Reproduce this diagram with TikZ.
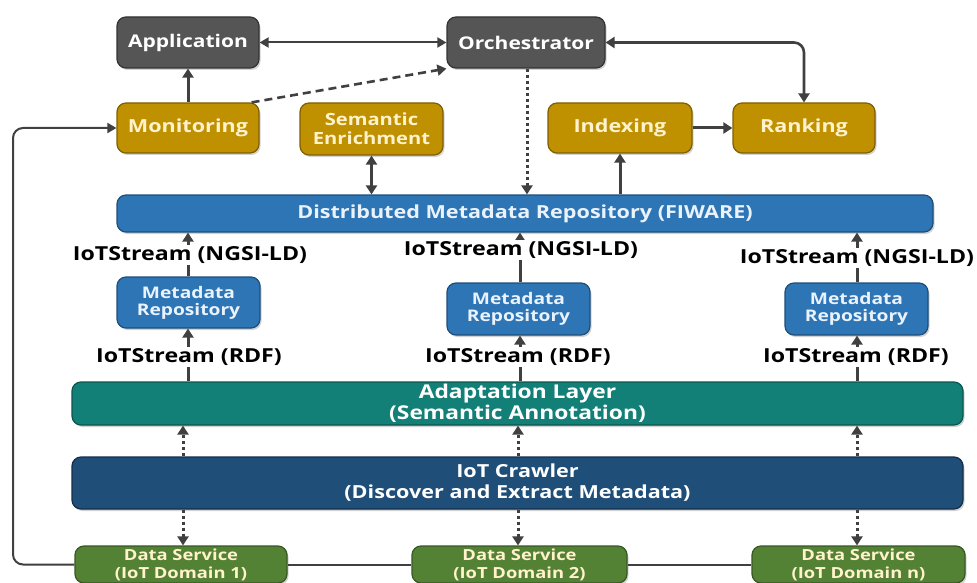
\documentclass[tikz,border=0pt]{standalone}
\usepackage{fontspec}
\setmainfont{Open Sans}[FakeStretch=1.2]
\usetikzlibrary{arrows.meta,shadows,positioning}

\definecolor{greybox}{HTML}{555555}
\definecolor{greyline}{HTML}{333333}
\definecolor{goldbox}{HTML}{BF9000}
\definecolor{goldline}{HTML}{7F6000}
\definecolor{goldtext}{HTML}{FFF2CC}
\definecolor{bluebox}{HTML}{2E75B6}
\definecolor{blueline}{HTML}{1F4E79}
\definecolor{bluetext}{HTML}{EAF2FB}
\definecolor{tealbox}{HTML}{138078}
\definecolor{tealline}{HTML}{0B5550}
\definecolor{navybox}{HTML}{1F4E79}
\definecolor{navyline}{HTML}{132F4A}
\definecolor{greenbox}{HTML}{548235}
\definecolor{greenline}{HTML}{385723}
\definecolor{arrowcol}{HTML}{404040}

\tikzset{
  boxbase/.style={rounded corners=9pt, line width=1.2pt, align=center, inner sep=0pt,
    font=\bfseries, drop shadow={opacity=0.35, shadow xshift=1.5pt, shadow yshift=-2pt}},
  greyb/.style={boxbase, fill=greybox, draw=greyline, text=white, font=\fontsize{17.5}{19}\selectfont\bfseries},
  goldb/.style={boxbase, fill=goldbox, draw=goldline, text=goldtext, font=\fontsize{18}{19}\selectfont\bfseries},
  blueb/.style={boxbase, fill=bluebox, draw=blueline, text=bluetext},
  tealb/.style={boxbase, fill=tealbox, draw=tealline, text=white, font=\fontsize{19}{20.5}\selectfont\bfseries},
  navyb/.style={boxbase, fill=navybox, draw=navyline, text=white, font=\fontsize{18}{21}\selectfont\bfseries},
  greenb/.style={boxbase, fill=greenbox, draw=greenline, text=goldtext, font=\fontsize{15.3}{18}\selectfont\bfseries},
  smallblue/.style={blueb, font=\fontsize{16}{17}\selectfont\bfseries},
  flow/.style={draw=arrowcol, line width=3pt, -{Triangle[length=9pt,width=11pt]}},
  bothflow/.style={draw=arrowcol, line width=2.6pt, {Triangle[length=9pt,width=11pt]}-{Triangle[length=9pt,width=11pt]}},
  thinboth/.style={draw=arrowcol, line width=2pt, {Triangle[length=9pt,width=10pt]}-{Triangle[length=9pt,width=10pt]}},
  dotflow/.style={draw=arrowcol, line width=3pt, dash pattern=on 3pt off 3pt, -{Triangle[length=9pt,width=11pt]}},
  dashflow/.style={draw=arrowcol, line width=2.6pt, dash pattern=on 8pt off 5pt, -{Triangle[length=9pt,width=11pt]}},
  plainline/.style={draw=arrowcol, line width=2pt},
  streamlbl/.style={fill=white, inner sep=1.5pt, text=black, font=\fontsize{19.3}{21}\selectfont\bfseries}
}

\begin{document}
\begin{tikzpicture}[x=1pt,y=-1pt]
\useasboundingbox[fill=white] (0,0) rectangle (977,583);

% top layer
\node[greyb, minimum width=142pt, minimum height=51pt] (app)  at (188,42.5) {Application};
\node[greyb, minimum width=158pt, minimum height=51pt] (orch) at (526,42.5) {Orchestrator};

% services
\node[goldb, minimum width=142pt, minimum height=50pt] (mon)  at (188,128) {Monitoring};
\node[goldb, font=\fontsize{16.8}{19}\selectfont\bfseries, minimum width=143pt, minimum height=52pt] (sem)  at (371.5,129) {Semantic\\Enrichment};
\node[goldb, minimum width=144pt, minimum height=50pt] (idx)  at (620,128) {Indexing};
\node[goldb, minimum width=142pt, minimum height=50pt] (rank) at (804,128) {Ranking};

% repositories
\node[blueb, font=\fontsize{18}{20}\selectfont\bfseries, minimum width=816pt, minimum height=37pt] (dmr) at (525,213.5)
  {Distributed Metadata Repository (FIWARE)};
\node[smallblue, minimum width=143pt, minimum height=51pt] (mr1) at (188.5,302.5) {Metadata\\Repository};
\node[smallblue, minimum width=143pt, minimum height=52pt] (mr2) at (518.5,309) {Metadata\\Repository};
\node[smallblue, minimum width=143pt, minimum height=52pt] (mr3) at (856.5,309) {Metadata\\Repository};

% lower layers
\node[tealb, minimum width=891pt, minimum height=43pt] (adapt) at (517.5,403.5) {Adaptation Layer\\(Semantic Annotation)};
\node[navyb, minimum width=891pt, minimum height=52pt] (crawl) at (517.5,483) {IoT Crawler\\(Discover and Extract Metadata)};

% data services
\node[greenb, minimum width=212pt, minimum height=37pt] (ds1) at (181,564.5) {Data Service\\(IoT Domain 1)};
\node[greenb, minimum width=215pt, minimum height=37pt] (ds2) at (519.5,564.5) {Data Service\\(IoT Domain 2)};
\node[greenb, minimum width=213pt, minimum height=37pt] (ds3) at (858.5,564.5) {Data Service\\(IoT Domain n)};

% connectors among the top boxes
\draw[thinboth] (app.east) -- (orch.west);
\draw[flow] (mon.north) -- (app.south);
\coordinate (mstart) at ([xshift=-8pt]mon.north east);
\draw[dashflow] (mstart) -- (orch.south west);
\draw[bothflow, rounded corners=10pt] (orch.east) -| (rank.north);
\draw[flow] (idx.east) -- (rank.west);
\draw[bothflow] (sem.south) -- (sem.south |- dmr.north);
\draw[dotflow] (orch.south -| 527,0) -- (dmr.north -| 527,0);
\draw[flow] (dmr.north -| idx.south) -- (idx.south);

% stream connectors with their labels
\draw[flow] (mr1.north -| 188,0) -- (dmr.south -| 188,0);
\node[streamlbl] (l1) at (190,255) {IoTStream (NGSI-LD)};
\draw[flow] (mr2.north -| 520,0) -- (dmr.south -| 520,0);
\node[streamlbl] (l2) at (521,250) {IoTStream (NGSI-LD)};
\draw[flow] (mr3.north -| 857,0) -- (dmr.south -| 857,0);
\node[streamlbl] (l3) at (857,258) {IoTStream (NGSI-LD)};

\draw[flow] (adapt.north -| 188,0) -- (mr1.south -| 188,0);
\node[streamlbl] (r1) at (189,357) {IoTStream (RDF)};
\draw[flow] (adapt.north -| 520,0) -- (mr2.south -| 520,0);
\node[streamlbl] (r2) at (518,357) {IoTStream (RDF)};
\draw[flow] (adapt.north -| 857,0) -- (mr3.south -| 857,0);
\node[streamlbl] (r3) at (856,357) {IoTStream (RDF)};

% crawler links
\foreach \xx in {183,518,857}{
  \draw[dotflow] (crawl.north -| \xx,0) -- (adapt.south -| \xx,0);
  \draw[dotflow] (crawl.south -| \xx,0) -- (ds1.north -| \xx,0);
}

% data service chain and feedback to monitoring
\draw[plainline] (ds1.east) -- (ds2.west);
\draw[plainline] (ds2.east) -- (ds3.west);
\coordinate (loopbl) at (13,564.5);
\draw[plainline, rounded corners=10pt, -{Triangle[length=9pt,width=10pt]}] (ds1.west) -- (loopbl) |- (mon.west);
\end{tikzpicture}
\end{document}
